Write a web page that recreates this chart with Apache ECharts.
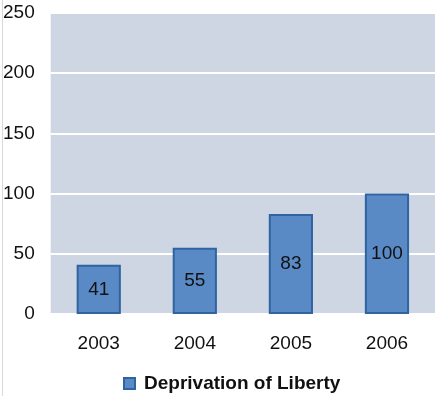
<!DOCTYPE html>
<html><head><meta charset="utf-8">
<script src="https://cdn.jsdelivr.net/npm/echarts@6/dist/echarts.min.js"></script>
<style>html,body{margin:0;padding:0;background:#fff}#c{width:440px;height:396px}</style>
</head><body><div id="c"></div>
<script>
const categories = ['2003','2004','2005','2006'];
const values = [41,55,83,100];
const seriesName = 'Deprivation of Liberty';
const chart = echarts.init(document.getElementById('c'));
chart.setOption({
  animation:false,
  graphic:[{type:'rect',shape:{x:2,y:0,width:1,height:396},style:{fill:'#d9d9d9'}}],
  grid:{left:49,top:13,width:386,height:301,show:true,backgroundColor:'#cdd6e2',borderWidth:0},
  legend:{top:369,left:118,itemWidth:11,itemHeight:11,icon:'rect',itemGap:10,
    textStyle:{fontFamily:'Liberation Sans',fontSize:19,fontWeight:'bold',color:'#111',padding:[0,0,0,4]}},
  xAxis:{type:'category',data:categories,axisLine:{show:false},axisTick:{show:false},
    axisLabel:{fontFamily:'Liberation Sans',fontSize:19,color:'#111',margin:20}},
  yAxis:{type:'value',min:0,max:250,interval:50,axisLine:{show:false},axisTick:{show:false},
    splitLine:{lineStyle:{color:'#ffffff',width:2}},
    axisLabel:{fontFamily:'Liberation Sans',fontSize:19,color:'#111',margin:16}},
  series:[{name:seriesName,type:'bar',data:values,barWidth:'46%',
    itemStyle:{color:'#5a8ac6',borderColor:'#2f64a0',borderWidth:2},
    label:{show:true,position:'inside',fontFamily:'Liberation Sans',fontSize:19,color:'#111'}}]
});
</script></body></html>
